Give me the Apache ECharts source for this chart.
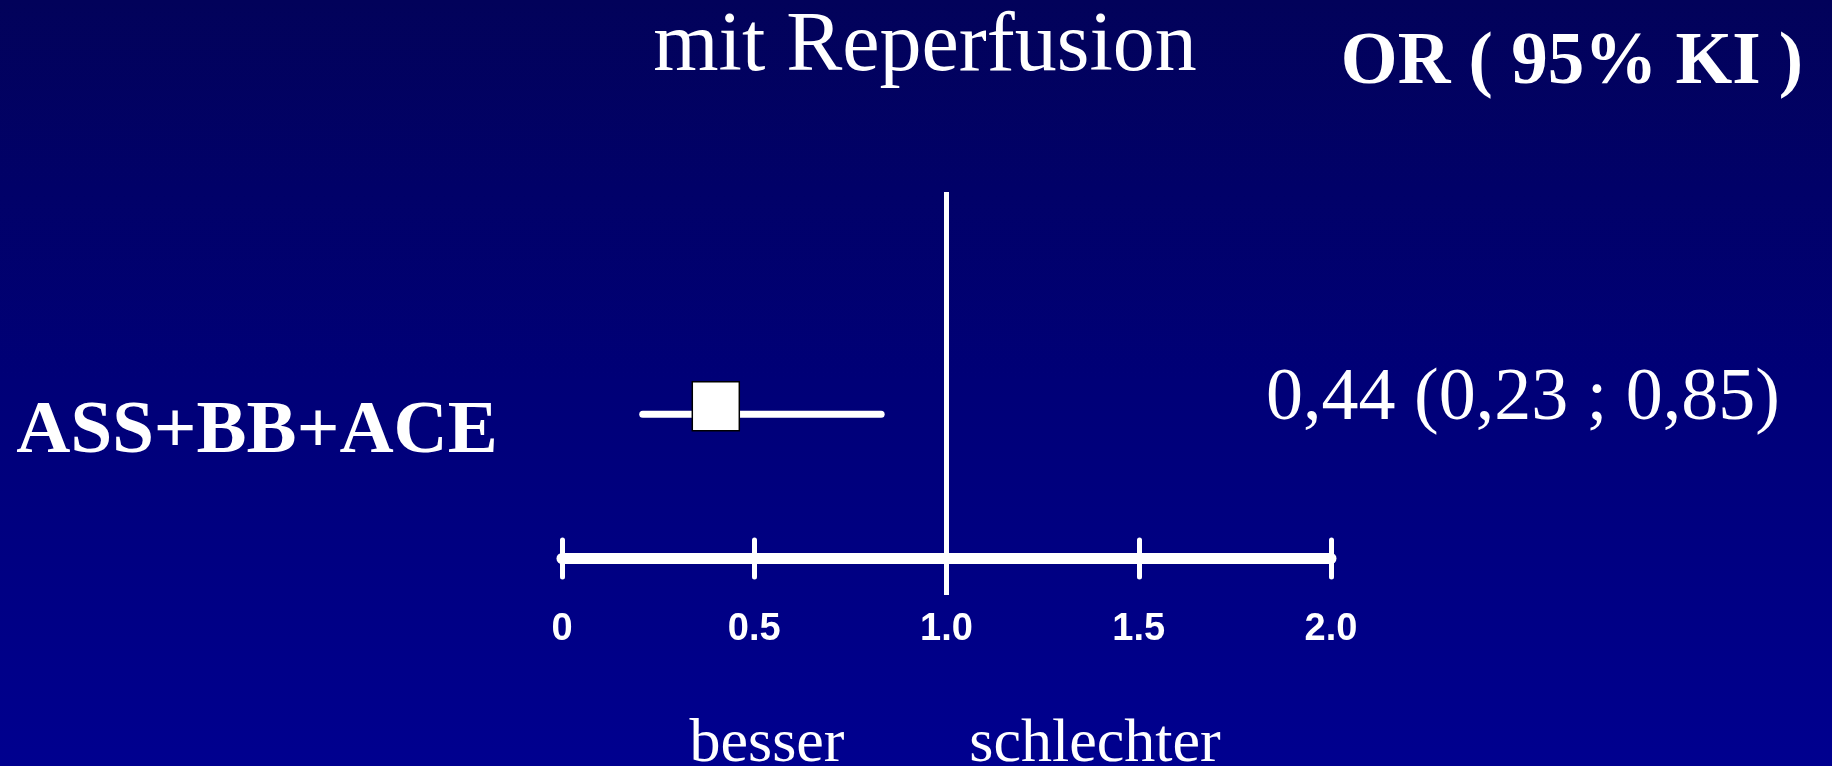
<!DOCTYPE html>
<html>
<head>
<meta charset="utf-8">
<script src="https://cdn.jsdelivr.net/npm/echarts@6/dist/echarts.min.js"></script>
<style>
  html, body { margin:0; padding:0; width:1832px; height:766px; overflow:hidden; background:#000070; }
  #chart { width:1832px; height:766px; }
</style>
</head>
<body>
<div id="chart"></div>
<script>
// ---- data ----
const categories = ['ASS+BB+ACE'];
const orEstimate = [0.40];
const ciLow = [0.21];
const ciHigh = [0.83];
const resultLabels = ['0,44 (0,23 ; 0,85)'];
const tickValues = [0, 0.5, 1.0, 1.5, 2.0];
const tickLabels = ['0', '0.5', '1.0', '1.5', '2.0'];
const referenceValue = 1.0;
const titleText = 'mit Reperfusion';
const headerText = 'OR ( 95% KI )';
const leftDirection = 'besser';
const rightDirection = 'schlechter';

// ---- layout ----
const rowY = 0.393;           // vertical position of the row inside the grid (0..1)
const refLineBottom = -0.101; // reference line extends below the axis

const chart = echarts.init(document.getElementById('chart'), null, { renderer: 'canvas' });

const serif = '"Liberation Serif", "Times New Roman", serif';
const sans = '"Liberation Sans", Arial, sans-serif';

const series = [];
// reference line at OR = 1
series.push({
  type: 'line',
  xAxisIndex: 0, yAxisIndex: 0,
  data: [[referenceValue, refLineBottom], [referenceValue, 1]],
  symbol: 'none',
  clip: false,
  lineStyle: { color: '#ffffff', width: 5 },
  z: 3,
  silent: true
});
categories.forEach((c, i) => {
  series.push({
    type: 'line',
    xAxisIndex: 0, yAxisIndex: 0,
    data: [[ciLow[i], rowY], [ciHigh[i], rowY]],
    symbol: 'none',
    lineStyle: { color: '#ffffff', width: 7, cap: 'round' },
    z: 4,
    silent: true
  });
  series.push({
    type: 'scatter',
    xAxisIndex: 0, yAxisIndex: 0,
    data: [[orEstimate[i], rowY]],
    symbol: 'rect',
    symbolSize: [47, 49],
    symbolOffset: [0, -8],
    itemStyle: { color: '#ffffff', borderColor: '#000000', borderWidth: 1.5, opacity: 1 },
    z: 5,
    silent: true
  });
});

const graphics = [
  { type: 'text', x: 925, y: 48, style: { text: titleText, font: '84px ' + serif, fill: '#ffffff', align: 'center', verticalAlign: 'middle' } },
  { type: 'text', x: 1572, y: 64, style: { text: headerText, font: 'bold 73px ' + serif, fill: '#ffffff', align: 'center', verticalAlign: 'middle' } },
  { type: 'text', x: 767, y: 745, style: { text: leftDirection, font: '62px ' + serif, fill: '#ffffff', align: 'center', verticalAlign: 'middle' } },
  { type: 'text', x: 1095, y: 745, style: { text: rightDirection, font: '62px ' + serif, fill: '#ffffff', align: 'center', verticalAlign: 'middle' } }
];
categories.forEach((c, i) => {
  graphics.push({ type: 'text', x: 257, y: 433, style: { text: c, font: 'bold 75px ' + serif, fill: '#ffffff', align: 'center', verticalAlign: 'middle' } });
  graphics.push({ type: 'text', x: 1523, y: 400, style: { text: resultLabels[i], font: '74px ' + serif, fill: '#ffffff', align: 'center', verticalAlign: 'middle' } });
});

const option = {
  animation: false,
  backgroundColor: {
    type: 'linear', x: 0, y: 0, x2: 0, y2: 1,
    colorStops: [
      { offset: 0, color: '#02025a' },
      { offset: 0.5, color: '#000077' },
      { offset: 1, color: '#00008f' }
    ]
  },
  grid: { left: 562, width: 769, top: 192, height: 366, containLabel: false },
  xAxis: [
    {
      type: 'value', min: 0, max: 2, interval: 0.5, position: 'bottom',
      axisLine: { show: true, onZero: false, lineStyle: { color: '#ffffff', width: 11, cap: 'round' } },
      axisTick: { show: true, inside: false, length: 19, lineStyle: { color: '#ffffff', width: 5, cap: 'round' } },
      splitLine: { show: false },
      axisLabel: {
        show: true, margin: 53, color: '#ffffff',
        fontFamily: sans, fontWeight: 'bold', fontSize: 38, lineHeight: 38,
        textShadowColor: '#00002a', textShadowOffsetX: 2, textShadowOffsetY: 2, textShadowBlur: 0,
        formatter: function (v) {
          const k = tickValues.findIndex(t => Math.abs(t - v) < 1e-9);
          return k >= 0 ? tickLabels[k] : '';
        }
      }
    },
    {
      type: 'value', min: 0, max: 2, interval: 0.5, position: 'bottom',
      axisLine: { show: false, onZero: false },
      axisTick: { show: true, inside: true, length: 18, lineStyle: { color: '#ffffff', width: 5, cap: 'round' } },
      splitLine: { show: false },
      axisLabel: { show: false }
    }
  ],
  yAxis: [{
    type: 'value', min: 0, max: 1, show: false,
    splitLine: { show: false }
  }],
  series: series,
  graphic: graphics
};

chart.setOption(option);
</script>
</body>
</html>
